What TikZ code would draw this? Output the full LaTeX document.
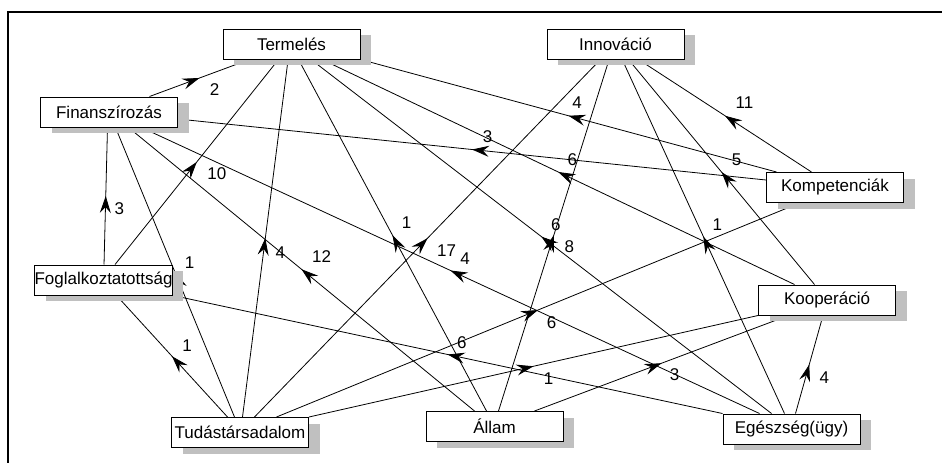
\documentclass[tikz,border=0pt]{standalone}
\usepackage{fontspec}
\setmainfont{Liberation Sans}
\usetikzlibrary{arrows.meta,decorations.markings,shadows}
\definecolor{shadegray}{RGB}{192,192,192}
\pgfdeclarelayer{links}
\pgfsetlayers{links,main}
\tikzset{headtip/.tip={Stealth[length=17pt,width=11pt,inset=6pt]}}
\begin{document}
\begin{tikzpicture}[x=1pt,y=-1pt,
  nodebox/.style={draw, line width=1pt, fill=white, minimum width=137pt,
    minimum height=30pt, inner sep=0pt, font=\fontsize{17}{20}\selectfont,
    drop shadow={shadow xshift=11pt, shadow yshift=-6pt, fill=shadegray, opacity=1}},
  link/.style={draw, line width=0.8pt,
    decoration={markings, mark=at position 0.5 with {\arrow{headtip}}},
    postaction=decorate},
  wt/.style={font=\fontsize{17}{20}\selectfont, inner sep=0pt}]
\useasboundingbox (0,0) rectangle (942,463);
% frame
\draw[line width=1.6pt] (942,12) -- (8,12) -- (8,463);

% concepts
\node[nodebox] (term)   at (291.5,44)  {Termelés};
\node[nodebox] (innov)  at (615.5,44)  {Innováció};
\node[nodebox] (fin)    at (109,112)   {Finanszírozás};
\node[nodebox] (komp)   at (835,187.5) {Kompetenciák};
\node[nodebox] (foglal) at (103.5,280) {Foglalkoztatottság};
\node[nodebox] (koop)   at (827,300)   {Kooperáció};
\node[nodebox] (tud)    at (240,432.5) {Tudástársadalom};
\node[nodebox] (allam)  at (494.5,426.5) {Állam};
\node[nodebox] (egesz)  at (791.5,429) {Egészség(ügy)};

\begin{pgfonlayer}{links}
% into Termelés
\draw[link] ([xshift=109.5pt]fin.north west) -- node[wt,midway,xshift=15pt,yshift=-12pt] (w1) {2} ([xshift=27pt]term.south west);
\draw[link] ([xshift=81pt]foglal.north west) -- node[wt,midway,xshift=20pt,yshift=-12pt] (w2) {10} ([xshift=56pt]term.south west);
\draw[link] ([xshift=71.5pt]tud.north west) -- node[wt,midway,xshift=15pt,yshift=-14pt] (w3) {4} ([xshift=65.6pt]term.south west);
\draw[link] ([xshift=61pt]allam.north west) -- node[wt,midway,xshift=14pt,yshift=12.5pt] (w4) {1} ([xshift=76pt]term.south west);
\draw[link] ([xshift=49pt]egesz.north west) -- node[wt,midway,xshift=28pt,yshift=-10.5pt] (w5) {8} ([xshift=88.5pt]term.south west);
\draw[link] ([xshift=36.5pt]koop.north west) -- node[wt,midway,xshift=14pt,yshift=12pt] (w6) {6} ([xshift=99.5pt]term.south west);
\draw[link] ([xshift=10.5pt]komp.north west) -- node[wt,midway,xshift=8.5pt,yshift=13pt] (w7) {4} (term.south east);
% into Finanszírozás
\draw[link] ([yshift=7.5pt]komp.west) -- node[wt,midway,xshift=15.5pt,yshift=12.5pt] (w8) {3} ([yshift=-7pt]fin.east);
\draw[link] ([xshift=70pt]foglal.north west) -- node[wt,midway,xshift=13.5pt,yshift=-13pt] (w9) {3} ([xshift=67.5pt]fin.south west);
\draw[link] ([xshift=63.5pt]tud.north west) -- node[wt,midway,xshift=14.5pt,yshift=10pt] (w10) {1} ([xshift=75.5pt]fin.south west);
\draw[link] ([xshift=49pt]allam.north west) -- node[wt,midway,xshift=20pt,yshift=12.5pt] (w11) {12} ([xshift=88.5pt]fin.south west);
\draw[link] ([xshift=37pt]egesz.north west) -- node[wt,midway,xshift=14.7pt,yshift=12.2pt] (w12) {4} ([xshift=101.5pt]fin.south west);
% into Innováció
\draw[link] ([xshift=83.5pt]tud.north west) -- node[wt,midway,xshift=19pt,yshift=-12pt] (w13) {17} ([xshift=54pt]innov.south west);
\draw[link] ([xshift=73pt]allam.north west) -- node[wt,midway,xshift=2pt,yshift=10.5pt] (w14) {6} ([xshift=62.6pt]innov.south west);
\draw[link] ([xshift=62pt]egesz.north west) -- node[wt,midway,xshift=14pt,yshift=11.5pt] (w15) {1} ([xshift=75.7pt]innov.south west);
\draw[link] ([xshift=56.5pt]koop.north west) -- node[wt,midway,xshift=15pt,yshift=12pt] (w16) {5} ([xshift=82pt]innov.south west);
\draw[link] ([xshift=45.5pt]komp.north west) -- node[wt,midway,xshift=19.5pt,yshift=13pt] (w17) {11} ([xshift=92pt]innov.south west);
% into Foglalkoztatottság
\draw[link] ([xshift=56.5pt]tud.north west) -- node[wt,midway,xshift=15pt,yshift=11pt] (w18) {1} ([xshift=82.5pt]foglal.south west);
\draw[link] (egesz.north west) -- node[wt,midway,xshift=14pt,yshift=12pt] (w19) {6} (foglal.south east);
% into Kompetenciák and Kooperáció
\draw[link] ([xshift=105.5pt]tud.north west) -- node[wt,midway,xshift=13.5pt,yshift=-12.5pt] (w20) {6} ([xshift=33.5pt]komp.south west);
\draw[link] (tud.north east) -- node[wt,midway,xshift=15pt,yshift=-12pt] (w21) {1} (koop.south west);
\draw[link] ([xshift=109pt]allam.north west) -- node[wt,midway,xshift=13pt,yshift=-11.5pt] (w22) {3} ([xshift=30.5pt]koop.south west);
\draw[link] ([xshift=73pt]egesz.north west) -- node[wt,midway,xshift=15pt,yshift=-13.5pt] (w23) {4} ([xshift=65pt]koop.south west);
\end{pgfonlayer}
\end{tikzpicture}
\end{document}
